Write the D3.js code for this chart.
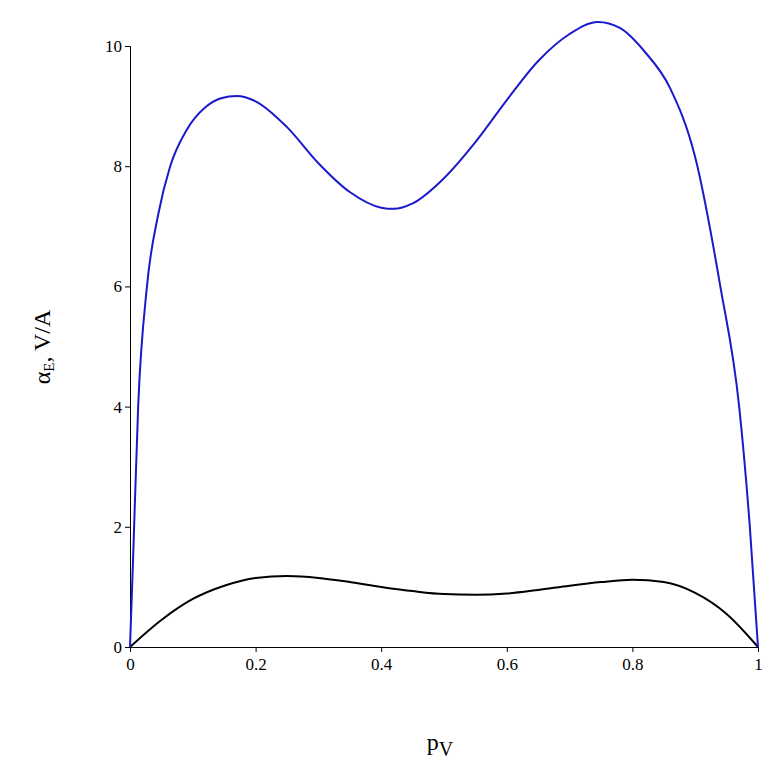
<!DOCTYPE html>
<html><head><meta charset="utf-8">
<script src="https://cdn.jsdelivr.net/npm/d3@7"></script>
<style>body{margin:0;background:#fff}text{font-family:"Liberation Serif",serif}</style>
</head><body><svg id="chart" width="777" height="773"></svg>
<script>
// values
const blueX = [0,0.005,0.013,0.027,0.045,0.064,0.09,0.12,0.145,0.17,0.2,0.25,0.3,0.35,0.4,0.42,0.45,0.5,0.55,0.6,0.65,0.7,0.745,0.78,0.82,0.86,0.9,0.94,0.97,0.987,1];
const blueY = [0,1.5,4,6,7.2,8,8.6,8.98,9.13,9.17,9.08,8.65,8.05,7.57,7.31,7.29,7.38,7.8,8.4,9.1,9.75,10.2,10.4,10.3,9.9,9.3,8.15,6.0,4.0,2.0,0];
const blackX = [0,0.05,0.1,0.15,0.2,0.25,0.3,0.35,0.4,0.45,0.5,0.55,0.6,0.65,0.7,0.75,0.8,0.85,0.9,0.95,1];
const blackY = [0,0.45,0.8,1.02,1.15,1.18,1.15,1.08,1.0,0.93,0.88,0.87,0.89,0.95,1.02,1.08,1.12,1.08,0.9,0.55,0];
const xTicks = [0,0.2,0.4,0.6,0.8,1];
const yTicks = [0,2,4,6,8,10];

const svg = d3.select('#chart');
const x = d3.scaleLinear().domain([0,1]).range([130,758]);
const y = d3.scaleLinear().domain([0,10]).range([647,46]);

svg.append('g').attr('transform','translate(0,647)')
  .call(d3.axisBottom(x).tickValues(xTicks).tickFormat(d3.format('')).tickSizeOuter(0).tickSize(5))
  .call(g => g.selectAll('text').attr('font-size',17).attr('dy','0.9em'));
svg.append('g').attr('transform','translate(130,0)')
  .call(d3.axisLeft(y).tickValues(yTicks).tickSizeOuter(0).tickSize(5))
  .call(g => g.selectAll('text').attr('font-size',17));
svg.selectAll('.domain, .tick line').attr('stroke','#000');
svg.selectAll('.tick text').attr('font-family','"Liberation Sans",sans-serif');

const line = d3.line().x(d => x(d[0])).y(d => y(d[1])).curve(d3.curveMonotoneX);
svg.append('path').datum(blackX.map((v,i) => [v, blackY[i]]))
  .attr('d', line).attr('fill','none').attr('stroke','#000').attr('stroke-width',2);
svg.append('path').datum(blueX.map((v,i) => [v, blueY[i]]))
  .attr('d', line).attr('fill','none').attr('stroke','#1a1acc').attr('stroke-width',2);

// axis titles
const yl = svg.append('text').attr('transform','translate(50,347) rotate(-90)')
  .attr('text-anchor','middle').attr('font-size',24);
yl.append('tspan').text('α');
yl.append('tspan').attr('font-size',15).attr('dy',4).text('E');
yl.append('tspan').attr('dy',-4).text(',  V/A');

const xl = svg.append('text').attr('x',440).attr('y',750).attr('text-anchor','middle').attr('font-size',24);
xl.append('tspan').text('p');
xl.append('tspan').attr('font-size',20).attr('dy',6).text('V');
</script></body></html>
